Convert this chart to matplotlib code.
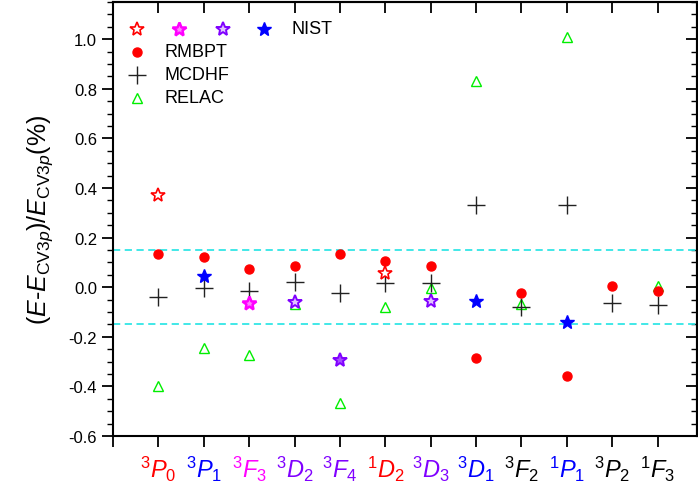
import matplotlib
matplotlib.use("Agg")
import matplotlib.pyplot as plt
import numpy as np

plt.rcParams['font.family'] = ['Liberation Sans', 'DejaVu Sans']
plt.rcParams['mathtext.fontset'] = 'custom'
plt.rcParams['mathtext.rm'] = 'Liberation Sans'
plt.rcParams['mathtext.it'] = 'Liberation Sans:italic'
plt.rcParams['mathtext.bf'] = 'Liberation Sans:bold'

levels = ['3P0', '3P1', '3F3', '3D2', '3F4', '1D2', '3D3', '3D1', '3F2', '1P1', '3P2', '1F3']
tick_labels = [r'$^{3}\mathit{P}_{0}$', r'$^{3}\mathit{P}_{1}$', r'$^{3}\mathit{F}_{3}$',
               r'$^{3}\mathit{D}_{2}$', r'$^{3}\mathit{F}_{4}$', r'$^{1}\mathit{D}_{2}$',
               r'$^{3}\mathit{D}_{3}$', r'$^{3}\mathit{D}_{1}$', r'$^{3}\mathit{F}_{2}$',
               r'$^{1}\mathit{P}_{1}$', r'$^{3}\mathit{P}_{2}$', r'$^{1}\mathit{F}_{3}$']
label_colors = ['#ff0000', '#0000ff', '#ff00ff', '#8000ff', '#8000ff', '#ff0000',
                '#8000ff', '#0000ff', '#000000', '#0000ff', '#000000', '#000000']

rmbpt = [0.133, 0.122, 0.073, 0.085, 0.133, 0.106, 0.086, -0.285, -0.024, -0.36, 0.003, -0.016]
mcdhf = [-0.039, -0.005, -0.015, 0.019, -0.022, 0.016, 0.015, 0.33, -0.08, 0.33, -0.065, -0.07]
relac = [-0.40, -0.247, -0.274, -0.068, -0.465, -0.078, -0.004, 0.83, -0.068, 1.01, np.nan, 0.004]
nist = [0.37, 0.046, -0.062, -0.059, -0.294, 0.058, -0.057, -0.055, np.nan, -0.14, np.nan, np.nan]
# NIST star style per level: 'r' open red, 'm' magenta, 'p' open purple, 'pf' purple, 'b' filled blue
nist_style = ['r', 'b', 'm', 'p', 'pf', 'r', 'p', 'b', '', 'b', '', '']

styles = {
    'r': dict(mfc='white', mec='#ff0000', mew=1.2),
    'm': dict(mfc='#ff80ff', mec='#ff00ff', mew=1.8),
    'p': dict(mfc='#e0c2ff', mec='#8000ff', mew=1.4),
    'pf': dict(mfc='#a64dff', mec='#8000ff', mew=1.4),
    'b': dict(mfc='#0000ff', mec='#0000ff', mew=1.0),
}

x = np.arange(1, len(levels) + 1)

fig = plt.figure(figsize=(6.98, 4.85), dpi=100)
ax = fig.add_axes([113/698, 1-437/485, 584/698, 434/485])

ax.axhline(0.15, color='#33e6e6', lw=1.3, ls=(0, (4, 2.5)), zorder=1)
ax.axhline(-0.15, color='#33e6e6', lw=1.3, ls=(0, (4, 2.5)), zorder=1)

ax.plot(x, relac, ls='none', marker='^', ms=7, mfc='none', mec='#00ee00', mew=1.0, zorder=3)
ax.plot(x, mcdhf, ls='none', marker='+', ms=13, mec='#222222', mew=1.0, zorder=4)
ax.plot(x, rmbpt, ls='none', marker='o', ms=6.5, mfc='#ff0000', mec='#ff0000', zorder=5)
for xi, v, s in zip(x, nist, nist_style):
    if s:
        ax.plot([xi], [v], ls='none', marker='*', ms=10, zorder=6, **styles[s])

ax.set_xlim(0, 12.87)
ax.set_ylim(-0.6, 1.15)

ax.set_xticks(np.arange(0, 13))
ax.set_xticklabels([''] + tick_labels, fontsize=17)
for lab, c in zip(ax.get_xticklabels()[1:], label_colors):
    lab.set_color(c)
ax.set_yticks(np.arange(-0.6, 1.01, 0.2))
ax.set_yticklabels(['%.1f' % v for v in np.arange(-0.6, 1.01, 0.2)], fontsize=12)
ax.set_yticks(np.arange(-0.6, 1.151, 0.05), minor=True)
ax.tick_params(axis='both', which='major', direction='out', length=8, width=1.3)
ax.tick_params(axis='y', which='minor', direction='out', length=4, width=1.0)
ax.tick_params(axis='x', which='major', pad=5)

sec_y = ax.secondary_yaxis('right')
sec_y.set_yticks(np.arange(-0.6, 1.01, 0.2))
sec_y.set_yticks(np.arange(-0.6, 1.151, 0.05), minor=True)
sec_y.tick_params(which='major', direction='in', length=8, width=1.3, labelright=False)
sec_y.tick_params(which='minor', direction='in', length=4, width=1.0)
sec_x = ax.secondary_xaxis('top')
sec_x.set_xticks(np.arange(0, 13))
sec_x.tick_params(which='major', direction='in', length=8, width=1.3, labeltop=False)

for sp in ax.spines.values():
    sp.set_linewidth(1.5)
sec_y.spines['right'].set_linewidth(1.5)
sec_x.spines['top'].set_linewidth(1.5)

ax.set_ylabel(r'($\mathit{E}$-$\mathit{E}_{\mathrm{CV3}\mathit{p}}$)/$\mathit{E}_{\mathrm{CV3}\mathit{p}}$(%)', fontsize=18, labelpad=10)

# legend
star_x = [0.041, 0.113, 0.188, 0.259]
for sx, s in zip(star_x, ['r', 'm', 'p', 'b']):
    ax.plot([sx], [0.938], transform=ax.transAxes, ls='none', marker='*', ms=10, clip_on=False, **styles[s])
ax.text(0.306, 0.938, 'NIST', transform=ax.transAxes, fontsize=13, va='center', ha='left')
ax.plot([0.041], [0.885], transform=ax.transAxes, ls='none', marker='o', ms=6.5, mfc='#ff0000', mec='#ff0000')
ax.text(0.089, 0.885, 'RMBPT', transform=ax.transAxes, fontsize=13, va='center', ha='left')
ax.plot([0.041], [0.832], transform=ax.transAxes, ls='none', marker='+', ms=13, mec='#222222', mew=1.0)
ax.text(0.089, 0.832, 'MCDHF', transform=ax.transAxes, fontsize=13, va='center', ha='left')
ax.plot([0.041], [0.779], transform=ax.transAxes, ls='none', marker='^', ms=7, mfc='none', mec='#00ee00', mew=1.0)
ax.text(0.089, 0.779, 'RELAC', transform=ax.transAxes, fontsize=13, va='center', ha='left')

fig.savefig('out.png', dpi=100)
